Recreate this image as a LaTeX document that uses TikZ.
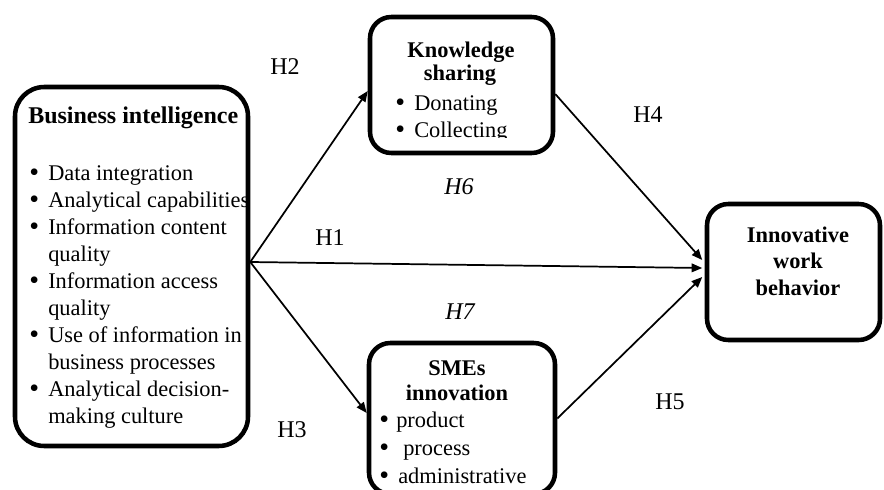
\documentclass[tikz,border=0pt]{standalone}
\usepackage{fontspec}
\setmainfont{Liberation Serif}
\usetikzlibrary{arrows.meta,calc}
\tikzset{
  box/.style={draw, line width=3.4pt, rounded corners=16pt, inner sep=0pt},
  txt/.style={inner sep=0pt, anchor=base west, font=\fontsize{16.8}{20}\selectfont},
  bul/.style={inner sep=0pt, anchor=base west, font=\fontsize{21}{20}\selectfont},
  ctxt/.style={inner sep=0pt, anchor=base, font=\fontsize{16.8}{20}\selectfont\bfseries},
  hlab/.style={inner sep=0pt, font=\fontsize{18}{20}\selectfont},
  arr/.style={line width=1.3pt, -{Triangle[length=8pt,width=6.5pt]}}
}
\begin{document}
\begin{tikzpicture}[x=0.75pt,y=-0.75pt]
\clip (0,0) rectangle (884,489);
\fill[white] (0,0) rectangle (884,489);
% boxes
\node[box, rounded corners=22pt, minimum width=174.75pt, minimum height=269.25pt] (bi) at (131.5,266.5) {};
\node[box, minimum width=137.25pt, minimum height=102pt] (ks) at (461.5,85) {};
\node[box, minimum width=139.5pt, minimum height=113.25pt] (sm) at (462,418.5) {};
\node[box, minimum width=129.75pt, minimum height=102pt] (iwb) at (793.5,272) {};
% Business intelligence text
\node[txt, font=\fontsize{18}{20}\selectfont\bfseries] (bit) at (28,123) {Business intelligence};
\foreach \y/\t [count=\i] in {180/Data integration, 207/Analytical capabilities, 234/Information content, 288/Information access, 342/Use of information in, 396/Analytical decision-}{
  \node[bul] (bib\i) at (29,\y+1) {•};
  \node[txt] (bil\i) at (48,\y) {\t};
}
\node[txt] (biq1) at (48,261) {quality};
\node[txt] (biq2) at (48,315) {quality};
\node[txt] (bibp) at (48,369) {business processes};
\node[txt] (bimc) at (48,423) {making culture};
% Knowledge sharing text
\node[ctxt] (kst1) at (461,57) {Knowledge};
\node[ctxt] (kst2) at (460,80) {sharing};
\node[bul] (ksb1) at (395,111) {•};
\node[txt] (ksl1) at (414,110) {Donating};
\begin{scope}
\clip (380,115) rectangle (550,137);
\node[bul] (ksb2) at (395,138) {•};
\node[txt] (ksl2) at (414,137) {Collecting};
\end{scope}
% SMEs innovation text
\node[ctxt] (smt1) at (457,375) {SMEs};
\node[ctxt] (smt2) at (457,400) {innovation};
\node[bul] (smb1) at (379,428) {•};
\node[txt] (sml1) at (396,427) {product};
\node[bul] (smb2) at (379,456) {•};
\node[txt] (sml2) at (403,455) {process};
\node[bul] (smb3) at (379,484) {•};
\node[txt] (sml3) at (398,483) {administrative};
% IWB text
\node[ctxt] (iw1) at (798,242) {Innovative};
\node[ctxt] (iw2) at (798,268) {work};
\node[ctxt] (iw3) at (798,295) {behavior};
% connectors
\coordinate (bis) at ($(bi.east)+(0,-4.5)$);
\draw[arr] (bis) -- ($(ks.west)+(0,6)$);
\draw[arr] (bis) -- ($(sm.west)+(0,-5.5)$);
\draw[arr] (bis) -- ($(iwb.west)+(-2.5,-4)$);
\draw[arr] ($(ks.east)+(0,9)$) -- ($(iwb.west)+(-2.5,-12)$);
\draw[arr] ($(sm.east)+(0,0)$) -- ($(iwb.west)+(-2.5,5)$);
% hypothesis labels
\node[hlab] (h2) at (285,67) {H2};
\node[hlab] (h4) at (648,115) {H4};
\node[hlab] (h1) at (330,238) {H1};
\node[hlab] (h6) at (459,187) {\itshape H6};
\node[hlab] (h7) at (460,312) {\itshape H7};
\node[hlab] (h3) at (292,430) {H3};
\node[hlab] (h5) at (670,402) {H5};
\end{tikzpicture}
\end{document}
